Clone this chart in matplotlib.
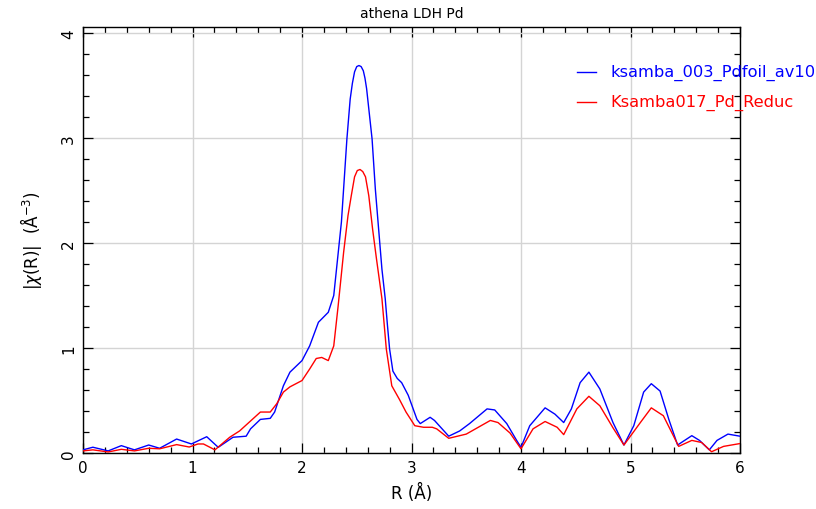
import matplotlib
matplotlib.use("Agg")
import matplotlib.pyplot as plt
from matplotlib.lines import Line2D
from matplotlib.ticker import MultipleLocator

# |chi(R)| magnitude of the Fourier transform, Pd foil reference
r_foil = [0.00, 0.09, 0.23, 0.35, 0.47, 0.60, 0.70, 0.855, 0.99, 1.13, 1.235,
          1.37, 1.49, 1.53, 1.62, 1.71, 1.75, 1.83, 1.89, 2.00, 2.07, 2.15,
          2.24, 2.29, 2.33, 2.36, 2.41, 2.44, 2.46, 2.48, 2.50, 2.52, 2.54,
          2.56, 2.575, 2.59, 2.64, 2.67, 2.70, 2.73, 2.76, 2.78, 2.80, 2.83,
          2.87, 2.91, 2.97, 3.05, 3.08, 3.17, 3.21, 3.34, 3.44, 3.53, 3.69,
          3.76, 3.87, 3.96, 4.00, 4.08, 4.22, 4.31, 4.39, 4.46, 4.54, 4.62,
          4.72, 4.84, 4.94, 5.03, 5.12, 5.19, 5.27, 5.35, 5.43, 5.56, 5.63,
          5.72, 5.79, 5.89, 6.00]
chi_foil = [0.03, 0.055, 0.02, 0.07, 0.03, 0.076, 0.045, 0.133, 0.086, 0.155,
            0.054, 0.15, 0.16, 0.23, 0.32, 0.33, 0.39, 0.64, 0.77, 0.88, 1.02,
            1.245, 1.34, 1.50, 1.90, 2.20, 2.99, 3.37, 3.52, 3.63, 3.68, 3.69,
            3.68, 3.64, 3.57, 3.47, 2.99, 2.51, 2.13, 1.75, 1.47, 1.22, 0.99,
            0.78, 0.71, 0.67, 0.55, 0.32, 0.28, 0.34, 0.31, 0.16, 0.21, 0.28,
            0.42, 0.41, 0.28, 0.12, 0.054, 0.26, 0.43, 0.37, 0.29, 0.42, 0.67,
            0.77, 0.61, 0.29, 0.076, 0.26, 0.58, 0.66, 0.59, 0.32, 0.076,
            0.165, 0.12, 0.03, 0.12, 0.18, 0.16]

# |chi(R)| of the reduced Pd sample
r_red = [0.00, 0.09, 0.23, 0.35, 0.47, 0.60, 0.70, 0.855, 0.97, 1.05, 1.10,
         1.205, 1.34, 1.43, 1.525, 1.62, 1.71, 1.77, 1.83, 1.89, 2.00, 2.07,
         2.13, 2.18, 2.24, 2.29, 2.33, 2.38, 2.42, 2.45, 2.48, 2.505, 2.53,
         2.555, 2.58, 2.61, 2.645, 2.68, 2.73, 2.77, 2.82, 2.89, 2.95, 3.03,
         3.11, 3.19, 3.23, 3.34, 3.50, 3.72, 3.79, 3.90, 4.00, 4.11, 4.22,
         4.33, 4.39, 4.51, 4.62, 4.72, 4.84, 4.94, 5.09, 5.19, 5.30, 5.44,
         5.56, 5.65, 5.74, 5.85, 6.00]
chi_red = [0.02, 0.03, 0.01, 0.035, 0.02, 0.045, 0.04, 0.08, 0.057, 0.086,
           0.086, 0.03, 0.15, 0.21, 0.30, 0.39, 0.39, 0.47, 0.58, 0.63, 0.69,
           0.80, 0.90, 0.91, 0.88, 1.02, 1.40, 1.91, 2.26, 2.45, 2.63, 2.69,
           2.70, 2.68, 2.63, 2.45, 2.13, 1.85, 1.47, 0.99, 0.64, 0.51, 0.39,
           0.26, 0.245, 0.245, 0.23, 0.14, 0.18, 0.31, 0.29, 0.19, 0.04, 0.23,
           0.30, 0.245, 0.175, 0.42, 0.54, 0.45, 0.24, 0.076, 0.29, 0.43,
           0.355, 0.063, 0.12, 0.10, 0.012, 0.063, 0.09]

series_names = ["ksamba_003_Pdfoil_av10", "Ksamba017_Pd_Reduc"]
series_colors = ["#0000ff", "#ff0000"]
x_ticks = [0, 1, 2, 3, 4, 5, 6]
y_ticks = [0, 1, 2, 3, 4]

plt.rcParams["font.family"] = ["DejaVu Sans"]

fig = plt.figure(figsize=(8.16, 5.10), dpi=100)
ax = fig.add_axes([83 / 816, 1 - 454 / 510, (740 - 83) / 816, (454 - 28) / 510])

ax.plot(r_foil, chi_foil, color=series_colors[0], lw=1.0, zorder=3)
ax.plot(r_red, chi_red, color=series_colors[1], lw=1.0, zorder=3)

ax.set_xlim(0, 6)
ax.set_ylim(0, 4.057)
ax.set_xticks(x_ticks)
ax.set_yticks(y_ticks)
ax.xaxis.set_minor_locator(MultipleLocator(0.2))
ax.yaxis.set_minor_locator(MultipleLocator(0.2))
ax.tick_params(which="both", direction="in", top=True, right=True,
               colors="black", width=0.9)
ax.tick_params(which="major", length=7, labelsize=11, pad=5)
ax.tick_params(which="minor", length=4)
for lab in ax.get_yticklabels():
    lab.set_rotation(90)
    lab.set_va("center")
ax.grid(True, which="major", color="#d4d4d4", lw=1.0, zorder=0)
for s in ax.spines.values():
    s.set_linewidth(1.0)
    s.set_color("black")

ax.set_xlabel("R (Å)", fontsize=12, labelpad=6)
ax.set_ylabel(r"|$\chi$(R)|  (Å$^{-3}$)", fontsize=12, labelpad=12)
fig.text(412 / 816, 1 - 14 / 510, "athena LDH Pd", ha="center", va="center",
         fontsize=10)

# legend entries placed to the right, running past the figure edge
for i, (name, col) in enumerate(zip(series_names, series_colors)):
    yy = 1 - (73 + 30 * i) / 510
    fig.add_artist(Line2D([577 / 816, 596 / 816], [yy, yy], color=col, lw=1.0,
                          transform=fig.transFigure))
    fig.text(610 / 816, yy, name, color=col, fontsize=11.7, ha="left",
             va="center")

fig.savefig("out.png", dpi=100, facecolor="white")
